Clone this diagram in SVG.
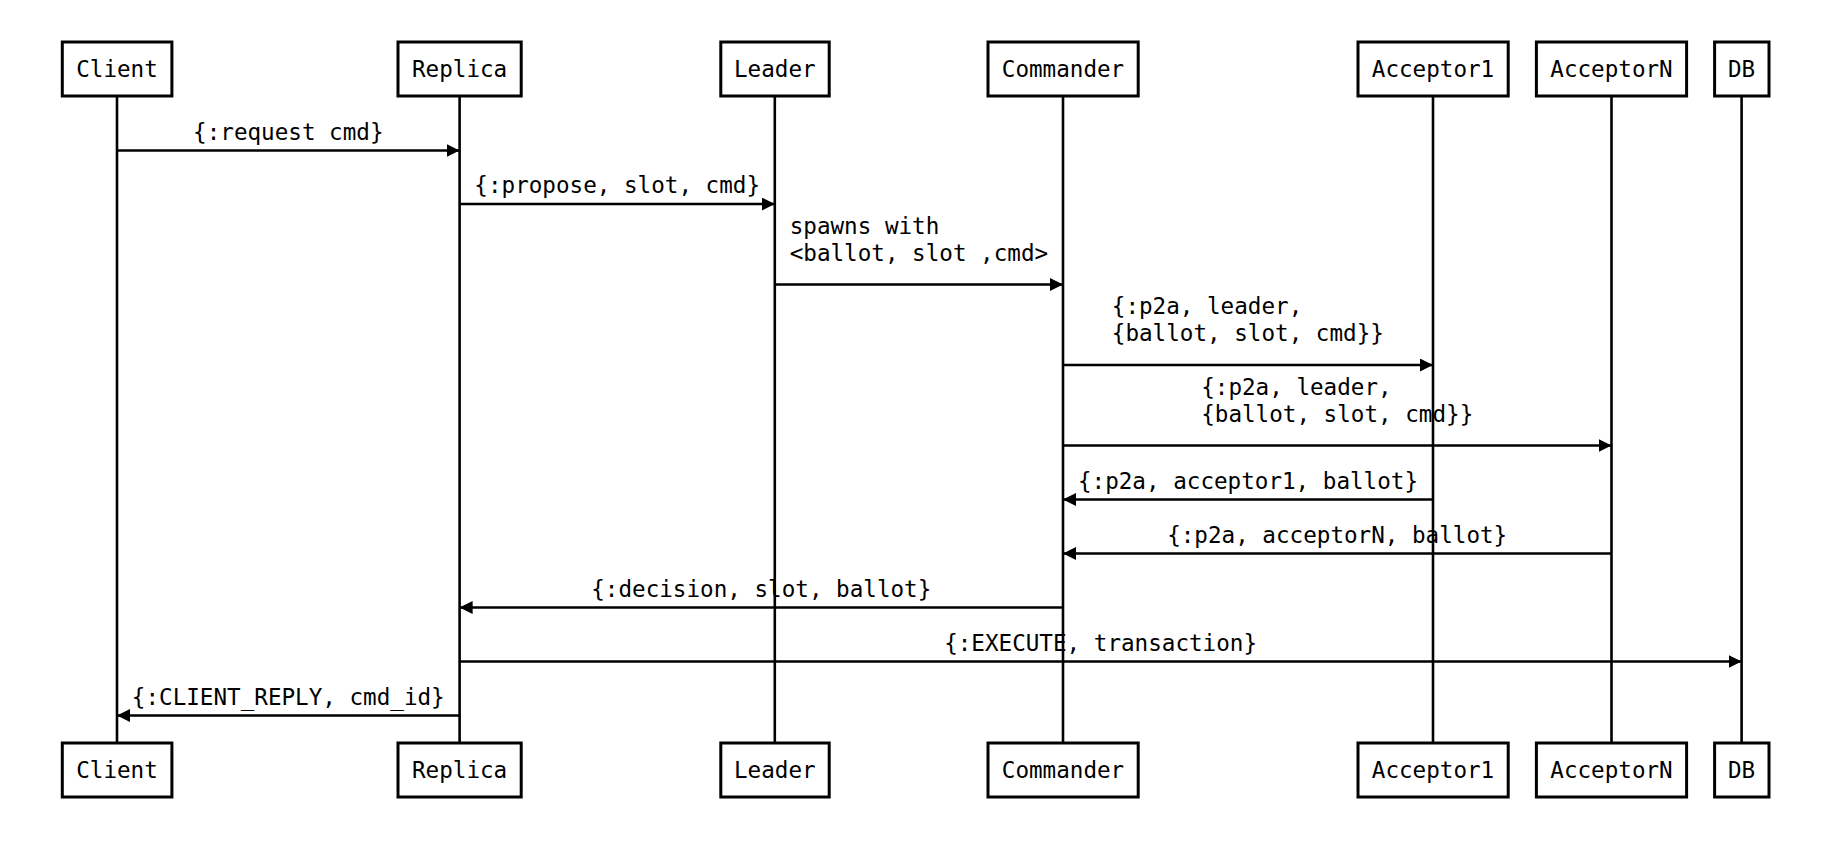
<svg xmlns="http://www.w3.org/2000/svg" width="1829" height="841" viewBox="0 0 1829 841">
<style>
.box{fill:#fff;stroke:#000;stroke-width:3}
.life{stroke:#000;stroke-width:2.6}
.msg{stroke:#000;stroke-width:2.6;fill:none;marker-end:url(#ah)}
text{font-family:"DejaVu Sans Mono","Liberation Mono",monospace;font-size:22.6px;fill:#000}
.c{text-anchor:middle}
</style>
<defs>
<marker id="ah" viewBox="0 0 13 13" refX="13" refY="6.5" markerWidth="13" markerHeight="13" markerUnits="userSpaceOnUse" orient="auto">
<path d="M0,0 L13,6.5 L0,13 z" fill="#000"/>
</marker>
</defs>
<rect width="1829" height="841" fill="#fff"/>
<g id="lifelines">
<line class="life" x1="117" y1="96" x2="117" y2="743"/>
<line class="life" x1="459.6" y1="96" x2="459.6" y2="743"/>
<line class="life" x1="774.8" y1="96" x2="774.8" y2="743"/>
<line class="life" x1="1063" y1="96" x2="1063" y2="743"/>
<line class="life" x1="1433" y1="96" x2="1433" y2="743"/>
<line class="life" x1="1611.5" y1="96" x2="1611.5" y2="743"/>
<line class="life" x1="1741.6" y1="96" x2="1741.6" y2="743"/>
</g>
<g id="node-client">
<rect class="box" x="62.3" y="42" width="109.6" height="54"/>
<text class="c" x="117" y="76.8">Client</text>
<rect class="box" x="62.3" y="743" width="109.6" height="54"/>
<text class="c" x="117" y="777.8">Client</text>
</g>
<g id="node-replica">
<rect class="box" x="398" y="42" width="123.2" height="54"/>
<text class="c" x="459.6" y="76.8">Replica</text>
<rect class="box" x="398" y="743" width="123.2" height="54"/>
<text class="c" x="459.6" y="777.8">Replica</text>
</g>
<g id="node-leader">
<rect class="box" x="720.8" y="42" width="108.4" height="54"/>
<text class="c" x="774.8" y="76.8">Leader</text>
<rect class="box" x="720.8" y="743" width="108.4" height="54"/>
<text class="c" x="774.8" y="777.8">Leader</text>
</g>
<g id="node-commander">
<rect class="box" x="988" y="42" width="150.2" height="54"/>
<text class="c" x="1063" y="76.8">Commander</text>
<rect class="box" x="988" y="743" width="150.2" height="54"/>
<text class="c" x="1063" y="777.8">Commander</text>
</g>
<g id="node-acceptor1">
<rect class="box" x="1358" y="42" width="150.2" height="54"/>
<text class="c" x="1433" y="76.8">Acceptor1</text>
<rect class="box" x="1358" y="743" width="150.2" height="54"/>
<text class="c" x="1433" y="777.8">Acceptor1</text>
</g>
<g id="node-acceptorN">
<rect class="box" x="1536.4" y="42" width="150.2" height="54"/>
<text class="c" x="1611.5" y="76.8">AcceptorN</text>
<rect class="box" x="1536.4" y="743" width="150.2" height="54"/>
<text class="c" x="1611.5" y="777.8">AcceptorN</text>
</g>
<g id="node-db">
<rect class="box" x="1714.6" y="42" width="54.4" height="54"/>
<text class="c" x="1741.6" y="76.8">DB</text>
<rect class="box" x="1714.6" y="743" width="54.4" height="54"/>
<text class="c" x="1741.6" y="777.8">DB</text>
</g>
<g id="connectors">
<line class="msg" x1="117" y1="150.5" x2="459.6" y2="150.5"/>
<text class="c" x="288.3" y="139.5">{:request cmd}</text>
<line class="msg" x1="459.6" y1="204" x2="774.8" y2="204"/>
<text class="c" x="617.2" y="193">{:propose, slot, cmd}</text>
<line class="msg" x1="774.8" y1="284.5" x2="1063" y2="284.5"/>
<text x="789.7" y="233.5">spawns with</text>
<text x="789.7" y="260.5">&lt;ballot, slot ,cmd&gt;</text>
<line class="msg" x1="1063" y1="365" x2="1433" y2="365"/>
<text x="1111.8" y="314">{:p2a, leader,</text>
<text x="1111.8" y="341">{ballot, slot, cmd}}</text>
<line class="msg" x1="1063" y1="445.5" x2="1611.5" y2="445.5"/>
<text x="1201.2" y="394.5">{:p2a, leader,</text>
<text x="1201.2" y="421.5">{ballot, slot, cmd}}</text>
<line class="msg" x1="1433" y1="499.5" x2="1063" y2="499.5"/>
<text class="c" x="1248" y="488.5">{:p2a, acceptor1, ballot}</text>
<line class="msg" x1="1611.5" y1="553.5" x2="1063" y2="553.5"/>
<text class="c" x="1337.2" y="542.5">{:p2a, acceptorN, ballot}</text>
<line class="msg" x1="1063" y1="607.5" x2="459.6" y2="607.5"/>
<text class="c" x="761.3" y="596.5">{:decision, slot, ballot}</text>
<line class="msg" x1="459.6" y1="661.5" x2="1741.6" y2="661.5"/>
<text class="c" x="1100.6" y="650.5">{:EXECUTE, transaction}</text>
<line class="msg" x1="459.6" y1="715.5" x2="117" y2="715.5"/>
<text class="c" x="288.3" y="704.5">{:CLIENT_REPLY, cmd_id}</text>
</g>
</svg>
